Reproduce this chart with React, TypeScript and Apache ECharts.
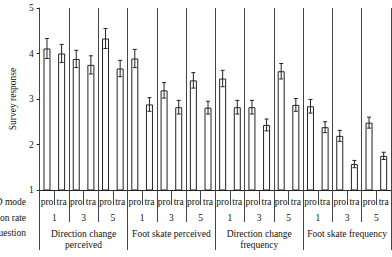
import React, { useEffect, useRef } from "react";
import * as echarts from "echarts";

const modes = ["pro", "tra", "pro", "tra", "pro", "tra", "pro", "tra", "pro", "tra", "pro", "tra", "pro", "tra", "pro", "tra", "pro", "tra", "pro", "tra", "pro", "tra", "pro", "tra"];
const rates = ["1", "3", "5", "1", "3", "5", "1", "3", "5", "1", "3", "5"];
const questions = ["Direction change\nperceived", "Foot skate perceived", "Direction change\nfrequency", "Foot skate frequency"];
const means = [4.11, 4.0, 3.88, 3.75, 4.33, 3.67, 3.89, 2.88, 3.19, 2.82, 3.41, 2.81, 3.45, 2.82, 2.82, 2.43, 3.61, 2.87, 2.84, 2.38, 2.19, 1.57, 2.48, 1.75];
const errors = [0.22, 0.2, 0.19, 0.2, 0.22, 0.18, 0.2, 0.15, 0.17, 0.15, 0.17, 0.14, 0.18, 0.15, 0.15, 0.13, 0.17, 0.14, 0.15, 0.12, 0.12, 0.08, 0.12, 0.08];
const yTicks = [1, 2, 3, 4, 5];
const rowLabels = ["LOD mode", "Rotation rate", "Question"];

const FONT = "Liberation Serif";
const INK = "#222";
const LINE = "#444";

export default function App() {
  const ref = useRef<HTMLDivElement>(null);
  useEffect(() => {
    const chart = echarts.init(ref.current!, null, { renderer: "svg" });
    const errData = means.map((m, i) => [i, m - errors[i], m + errors[i]]);
    chart.setOption({
      animation: false,
      grid: { left: 32, right: 1, top: 8, bottom: 67, containLabel: false },
      xAxis: [
        {
          type: "category",
          data: modes,
          position: "bottom",
          boundaryGap: true,
          axisLine: { show: true, lineStyle: { color: INK, width: 1 } },
          axisTick: { show: true, interval: 0, length: 15, lineStyle: { color: LINE } },
          axisLabel: { interval: 0, margin: 7, fontFamily: FONT, fontSize: 9.5, color: "#111" },
          splitLine: { show: false },
        },
        {
          type: "category",
          data: rates,
          position: "bottom",
          boundaryGap: true,
          axisLine: { show: false },
          axisTick: { show: true, interval: 0, length: 32, lineStyle: { color: LINE } },
          axisLabel: { interval: 0, margin: 23, fontFamily: FONT, fontSize: 9.5, color: "#111" },
          splitLine: { show: true, interval: 0, lineStyle: { color: LINE, width: 1 } },
        },
        {
          type: "category",
          data: questions,
          position: "bottom",
          boundaryGap: true,
          axisLine: { show: false },
          axisTick: { show: true, interval: 0, length: 60, lineStyle: { color: LINE } },
          axisLabel: { interval: 0, margin: 38, fontFamily: FONT, fontSize: 9.5, lineHeight: 11, color: "#111" },
          splitLine: { show: false },
        },
      ],
      yAxis: {
        type: "value",
        min: yTicks[0],
        max: yTicks[yTicks.length - 1],
        interval: 1,
        name: "Survey response",
        nameLocation: "middle",
        nameGap: 20,
        nameRotate: 90,
        nameTextStyle: { fontFamily: FONT, fontSize: 9.5, color: "#111" },
        axisLine: { show: true, lineStyle: { color: LINE, width: 1 } },
        axisTick: { show: true, length: 3, lineStyle: { color: INK } },
        axisLabel: { margin: 6, fontFamily: FONT, fontSize: 9.5, color: "#111" },
        splitLine: { show: false },
      },
      series: [
        {
          type: "bar",
          xAxisIndex: 0,
          data: means,
          barWidth: 7,
          itemStyle: { color: "#fff", borderColor: INK, borderWidth: 1 },
          silent: true,
        },
        {
          type: "custom",
          xAxisIndex: 0,
          data: errData,
          renderItem: (params: any, api: any) => {
            const x = api.value(0);
            const lo = api.coord([x, api.value(1)]);
            const hi = api.coord([x, api.value(2)]);
            const cap = 2;
            const style = { stroke: INK, lineWidth: 1 };
            return {
              type: "group",
              children: [
                { type: "line", shape: { x1: lo[0], y1: lo[1], x2: hi[0], y2: hi[1] }, style },
                { type: "line", shape: { x1: hi[0] - cap, y1: hi[1], x2: hi[0] + cap, y2: hi[1] }, style },
                { type: "line", shape: { x1: lo[0] - cap, y1: lo[1], x2: lo[0] + cap, y2: lo[1] }, style },
              ],
            };
          },
          z: 5,
        },
      ],
      graphic: rowLabels.map((t, i) => ({
        type: "text",
        right: 392 - 26,
        top: [197, 213, 228][i],
        style: { text: t, fontFamily: FONT, fontSize: 9.5, fill: "#111", textAlign: "right" },
      })),
    });
    return () => chart.dispose();
  }, []);
  return <div ref={ref} style={{ width: 392, height: 257, position: "absolute", left: 0, top: 0 }} />;
}
